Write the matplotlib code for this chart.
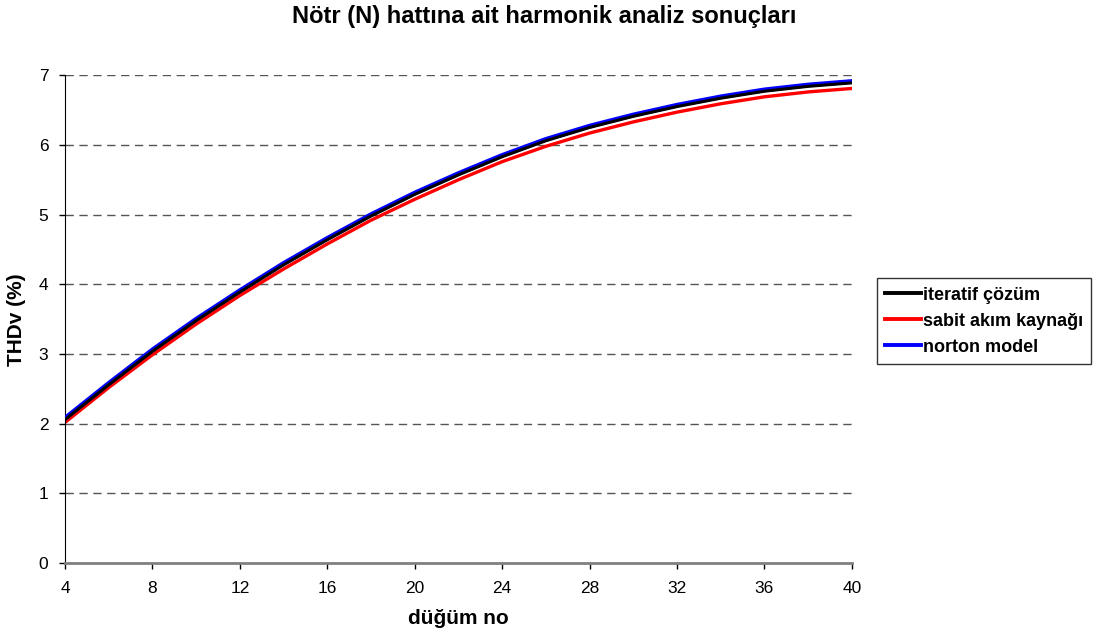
import matplotlib.pyplot as plt

plt.rcParams['font.family'] = ['Liberation Sans', 'DejaVu Sans']

# node numbers and THDv values (%)
dugum = [4, 6, 8, 10, 12, 14, 16, 18, 20, 22, 24, 26, 28, 30, 32, 34, 36, 38, 40]
iteratif = [2.06, 2.56, 3.04, 3.48, 3.89, 4.28, 4.64, 4.98, 5.29, 5.57, 5.83, 6.06, 6.25, 6.41, 6.55, 6.67, 6.77, 6.84, 6.89]
sabit = [2.02, 2.52, 2.99, 3.43, 3.84, 4.22, 4.58, 4.92, 5.22, 5.50, 5.76, 5.98, 6.17, 6.33, 6.47, 6.59, 6.69, 6.76, 6.81]
norton = [2.08, 2.58, 3.06, 3.50, 3.91, 4.30, 4.66, 5.00, 5.31, 5.59, 5.85, 6.08, 6.27, 6.43, 6.57, 6.69, 6.79, 6.86, 6.91]

xticks = [4, 8, 12, 16, 20, 24, 28, 32, 36, 40]
yticks = [0, 1, 2, 3, 4, 5, 6, 7]

fig = plt.figure(figsize=(10.95, 6.4), dpi=100)
ax = fig.add_axes([0.0594, 0.12, 0.7186, 0.7625])

ax.plot(dugum, norton, color='#0000ff', lw=3.4, label='norton model', zorder=3)
ax.plot(dugum, iteratif, color='black', lw=2.2, label='iteratif çözüm', zorder=4)
ax.plot(dugum, sabit, color='#ff0000', lw=2.4, label='sabit akım kaynağı', zorder=2)

ax.set_xlim(4, 40)
ax.set_ylim(0, 7)
ax.set_xticks(xticks)
ax.set_yticks(yticks)
ax.tick_params(axis='both', labelsize=12.5, direction='out', length=4, width=1)
ax.tick_params(axis='x', pad=9)
ax.tick_params(axis='y', pad=8)

for y in yticks[1:]:
    ax.axhline(y, color='#555555', lw=1, ls=(0, (6, 4)), zorder=1)

for s in ['top', 'right']:
    ax.spines[s].set_visible(False)
ax.spines['left'].set_color('black')
ax.spines['bottom'].set_color('#808080')
ax.spines['bottom'].set_linewidth(2)

ax.set_xlabel('düğüm no', fontsize=15, fontweight='bold', labelpad=9)
ax.set_ylabel('THDv (%)', fontsize=15, fontweight='bold', labelpad=9)
fig.text(0.497, 1 - 23 / 640, 'Nötr (N) hattına ait harmonik analiz sonuçları',
         fontsize=17, fontweight='bold', ha='center', va='baseline')

handles, labels = ax.get_legend_handles_labels()
order = [1, 2, 0]
leg = ax.legend([handles[i] for i in order], [labels[i] for i in order],
                loc='center left', bbox_to_anchor=(1.032, 0.496), frameon=True,
                fancybox=False, edgecolor='black', handlelength=2.0,
                handletextpad=0.1, borderpad=0.45, borderaxespad=0,
                labelspacing=0.5, prop={'weight': 'bold', 'size': 13})
leg.get_frame().set_linewidth(1)
for line in leg.get_lines():
    line.set_linewidth(2.8)

fig.savefig('out.png', dpi=100)
